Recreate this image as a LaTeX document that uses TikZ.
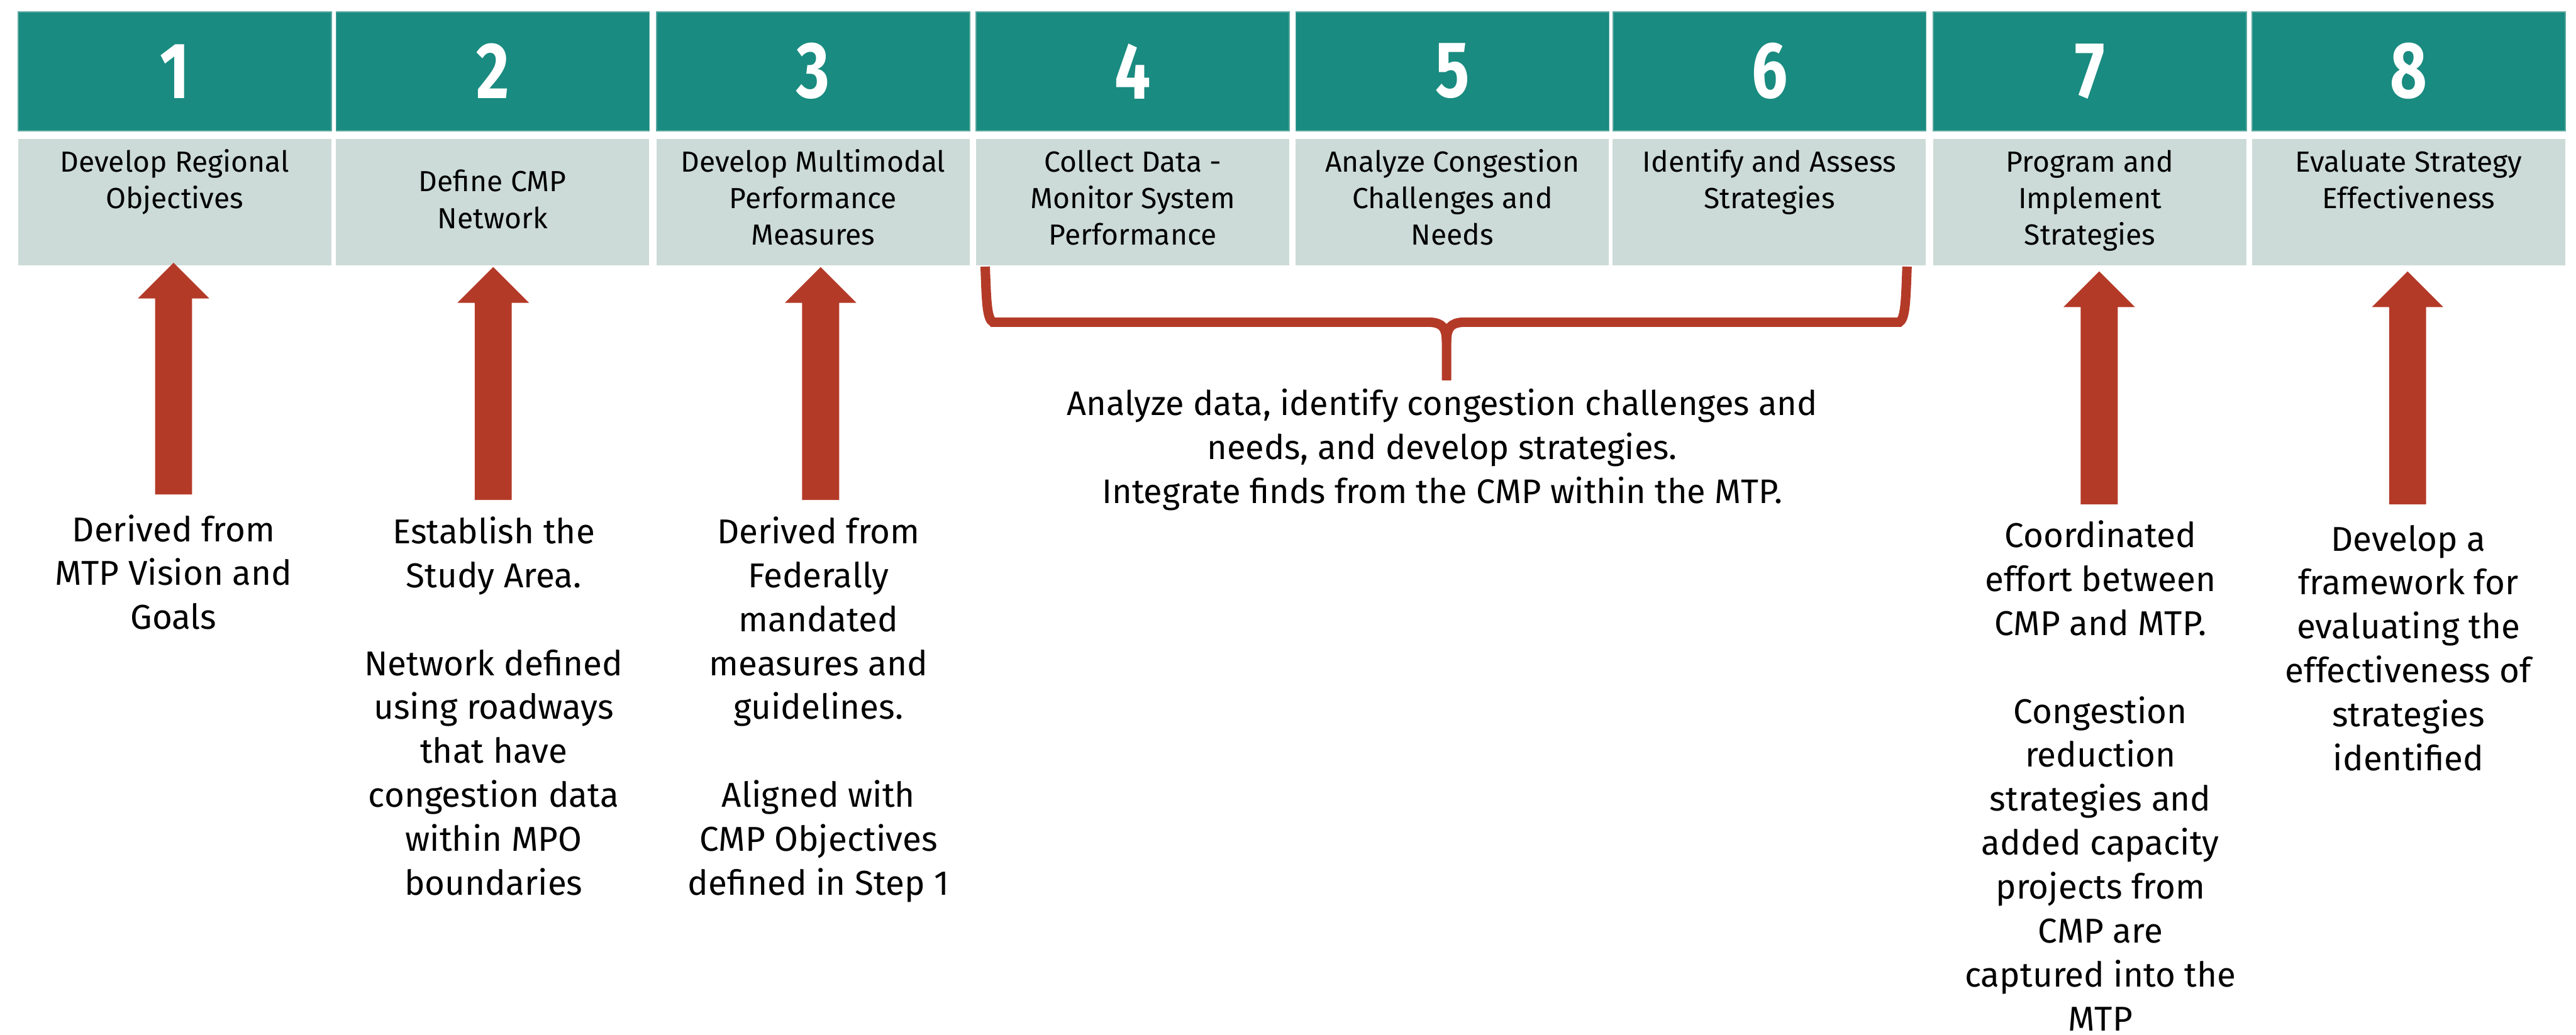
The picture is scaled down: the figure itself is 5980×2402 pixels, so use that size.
\documentclass[tikz,border=0pt]{standalone}
\usepackage{fontspec}
\setmainfont{Fira Sans}
\newfontfamily\digitfont[FakeStretch=0.8]{Fira Sans Bold}
\usetikzlibrary{calc}

\definecolor{stepteal}{RGB}{25,139,128}
\definecolor{stepedge}{RGB}{90,168,160}
\definecolor{stepgray}{RGB}{204,219,215}
\definecolor{arrowred}{RGB}{180,58,40}

% Multi-line nodes sit on the baseline of their last line (anchor=base).
\tikzset{
  hdr/.style={fill=stepteal, draw=stepedge, line width=0.5pt, anchor=north west,
    minimum width=145.4pt, minimum height=55.2pt, inner sep=0pt,
    text=white, font=\digitfont\fontsize{37}{37}\selectfont},
  stepbox/.style={fill=stepgray, anchor=north west, minimum width=145.4pt,
    minimum height=58.6pt, inner sep=0pt},
  steptext/.style={anchor=base, align=center, inner sep=0pt,
    font=\fontsize{13.5}{17}\selectfont},
  note/.style={anchor=base, align=center, inner sep=0pt,
    font=\fontsize{16}{20.4}\selectfont},
  bracenote/.style={anchor=base, align=center, inner sep=0pt,
    font=\fontsize{15.8}{20.3}\selectfont},
}

% block arrow from a base coordinate up to a tip coordinate
\newcommand\blockarrow[2]{%
  \fill[arrowred] ($(#1)+(-43,0)$) -- ($(#2)+(-43,83)$) -- ($(#2)+(-83,83)$)
    -- (#2) -- ($(#2)+(83,83)$) -- ($(#2)+(43,83)$) -- ($(#1)+(43,0)$) -- cycle;}

\begin{document}
\begin{tikzpicture}[x=0.2pt, y=-0.2pt]
\useasboundingbox (0,0) rectangle (5980,2402);
\fill[white] (0,0) rectangle (5980,2402);

% numbered header cells
\node[hdr] (h1) at (41,26) {1};
\node[hdr] (h2) at (779,26) {2};
\node[hdr] (h3) at (1523,26) {3};
\node[hdr] (h4) at (2265,26) {4};
\node[hdr] (h5) at (3007,26) {5};
\node[hdr] (h6) at (3743,26) {6};
\node[hdr] (h7) at (4487,26) {7};
\node[hdr] (h8) at (5227,26) {8};

% step title cells
\node[stepbox] (s1) at (41,322) {};
\node[stepbox] (s2) at (779,322) {};
\node[stepbox] (s3) at (1523,322) {};
\node[stepbox] (s4) at (2265,322) {};
\node[stepbox] (s5) at (3007,322) {};
\node[stepbox] (s6) at (3743,322) {};
\node[stepbox] (s7) at (4487,322) {};
\node[stepbox] (s8) at (5227,322) {};

\node[steptext] (s1t) at ($(s1.north)+(0,162)$) {Develop Regional\\Objectives};
\node[steptext] (s2t) at ($(s2.north)+(0,208)$) {Define CMP\\Network};
\node[steptext] (s3t) at ($(s3.north)+(0,247)$) {Develop Multimodal\\Performance\\Measures};
\node[steptext] (s4t) at ($(s4.north)+(0,247)$) {Collect Data -\\Monitor System\\Performance};
\node[steptext] (s5t) at ($(s5.north)+(0,247)$) {Analyze Congestion\\Challenges and\\Needs};
\node[steptext] (s6t) at ($(s6.north)+(0,162)$) {Identify and Assess\\Strategies};
\node[steptext] (s7t) at ($(s7.north)+(0,247)$) {Program and\\Implement\\Strategies};
\node[steptext] (s8t) at ($(s8.north)+(0,162)$) {Evaluate Strategy\\Effectiveness};

% arrows pointing up into the steps
\coordinate (a1t) at (403,610);  \coordinate (a1b) at (403,1148);
\coordinate (a2t) at (1145,620); \coordinate (a2b) at (1145,1161);
\coordinate (a3t) at (1905,620); \coordinate (a3b) at (1905,1161);
\coordinate (a7t) at (4873,630); \coordinate (a7b) at (4873,1171);
\coordinate (a8t) at (5589,630); \coordinate (a8b) at (5589,1171);
\blockarrow{a1b}{a1t}
\blockarrow{a2b}{a2t}
\blockarrow{a3b}{a3t}
\blockarrow{a7b}{a7t}
\blockarrow{a8b}{a8t}

% brace under steps 4 to 6
\coordinate (brL) at (2287,619);
\coordinate (brR) at (4427,619);
\coordinate (brM) at (3358,883);
\draw[arrowred, line width=4.4pt]
  (brL) .. controls (2290,700) and (2291,740) .. (2305,748) -- (3320,748)
  .. controls (3348,750) and (3358,760) .. (3358,795) -- (brM);
\draw[arrowred, line width=4.4pt]
  (brR) .. controls (4424,700) and (4423,740) .. (4409,748) -- (3396,748)
  .. controls (3368,750) and (3358,760) .. (3358,795);

% descriptions
\node[note] (t1) at (403,1461) {Derived from\\MTP Vision and\\Goals};
\node[note] (t2) at (1146,2078) {Establish the\\Study Area.\\\strut\\Network defined\\using roadways\\that have\\congestion data\\within MPO\\boundaries};
\node[note] (t3) at (1900,2078) {Derived from\\Federally\\mandated\\measures and\\guidelines.\\\strut\\Aligned with\\CMP Objectives\\defined in Step 1};
\node[bracenote] (tb) at (3348,1168) {Analyze data, identify congestion challenges and\\needs, and develop strategies.\\Integrate finds from the CMP within the MTP.};
\node[note] (t7) at (4876,2393) {Coordinated\\effort between\\CMP and MTP.\\\strut\\Congestion\\reduction\\strategies and\\added capacity\\projects from\\CMP are\\captured into the\\MTP};
\node[note] (t8) at (5591,1789) {Develop a\\framework for\\evaluating the\\effectiveness of\\strategies\\identified};
\end{tikzpicture}
\end{document}
